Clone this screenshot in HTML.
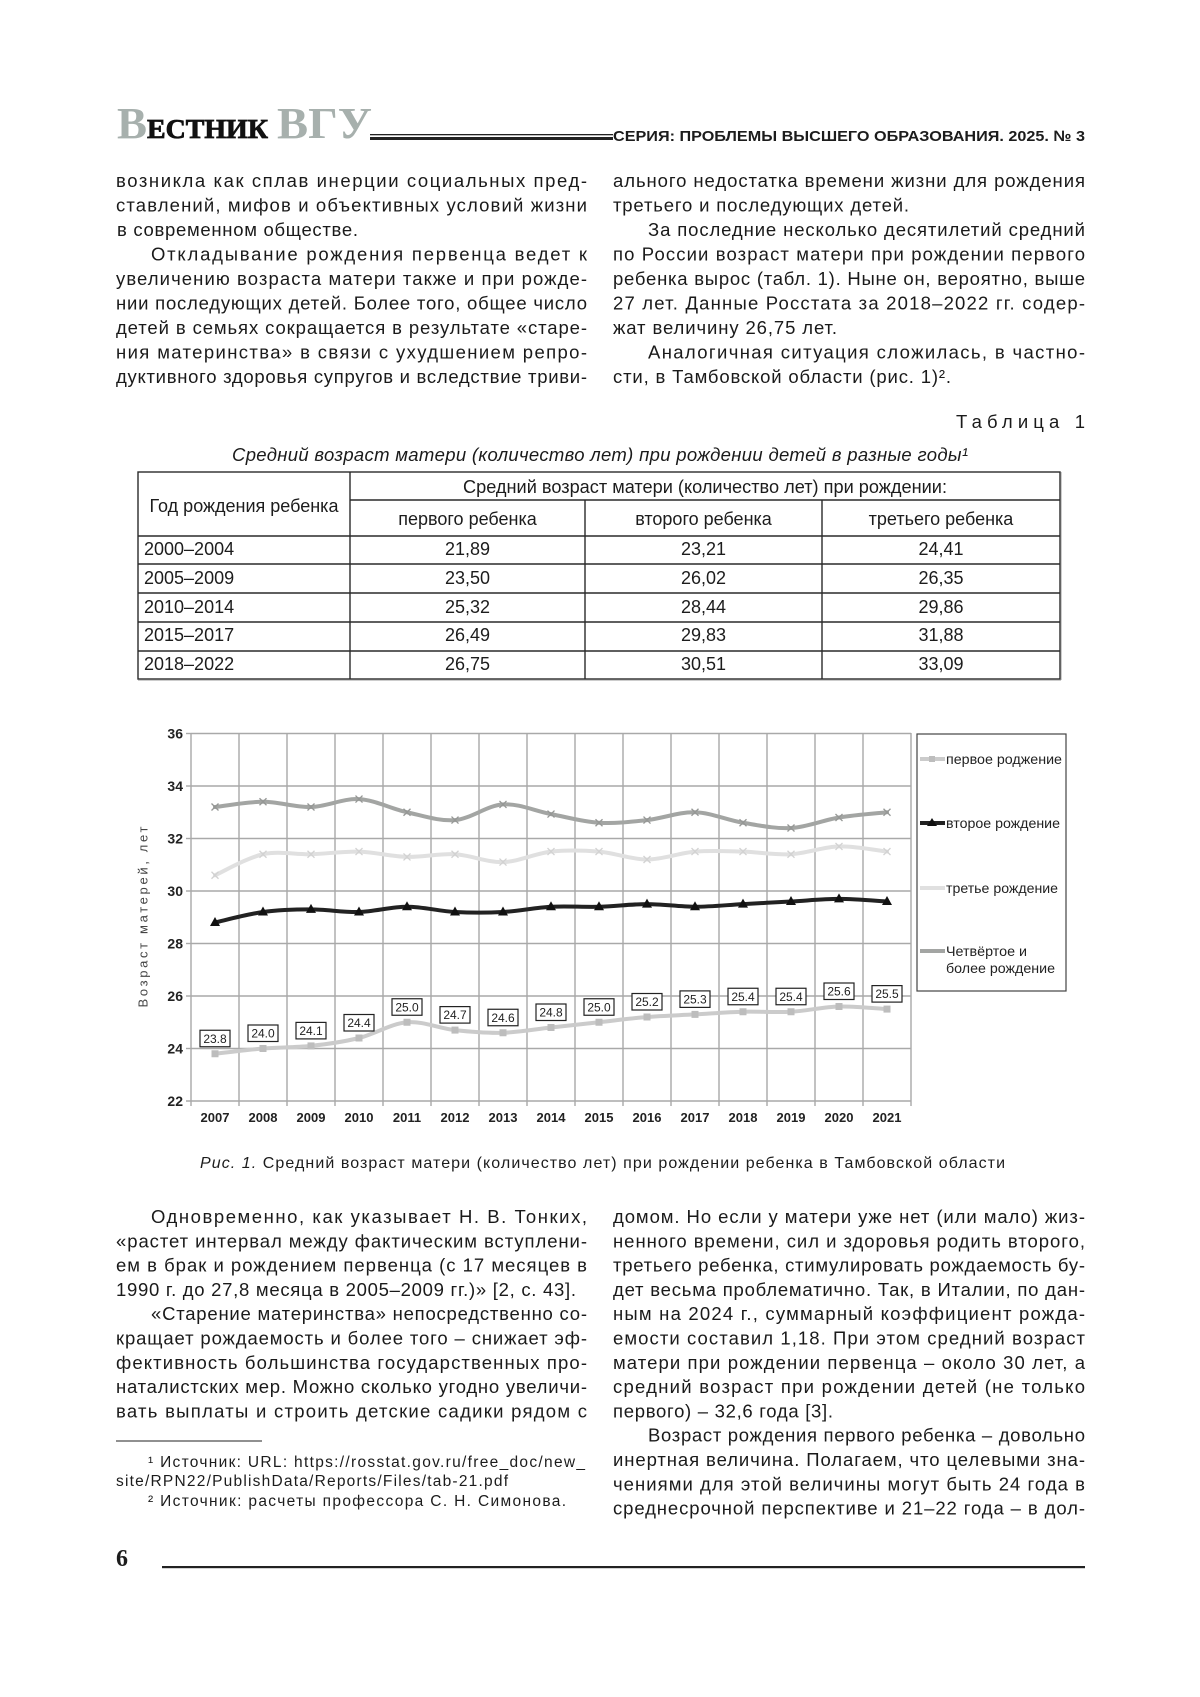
<!DOCTYPE html>
<html><head><meta charset="utf-8">
<style>
html,body{margin:0;padding:0;background:#fff;}
svg{display:block;}
.b{font-family:"Liberation Sans","DejaVu Sans",sans-serif;font-size:18.5px;fill:#1a1a1a;}
.t{font-family:"Liberation Sans","DejaVu Sans",sans-serif;font-size:18px;fill:#1c1c1c;}
.f{font-family:"Liberation Sans","DejaVu Sans",sans-serif;font-size:15.5px;fill:#1c1c1c;}
.ax{font-family:"Liberation Sans","DejaVu Sans",sans-serif;font-weight:bold;fill:#222;}
.lg{font-family:"Liberation Sans","DejaVu Sans",sans-serif;font-size:14px;fill:#222;}
.dl{font-family:"Liberation Sans","DejaVu Sans",sans-serif;font-size:12px;fill:#222;}
</style></head>
<body>
<svg id="pg" width="1200" height="1697" viewBox="0 0 1200 1697">
<rect x="0" y="0" width="1200" height="1697" fill="#fff"/>

<!-- Header -->
<text x="117" y="138" font-family="Liberation Serif, DejaVu Serif, serif" font-weight="bold" font-size="44" fill="#a7b0ad" textLength="30" lengthAdjust="spacingAndGlyphs">В</text>
<text x="147" y="138" font-family="Liberation Serif, DejaVu Serif, serif" font-weight="bold" font-size="27" fill="#111" stroke="#111" stroke-width="0.8" textLength="121" lengthAdjust="spacingAndGlyphs">ЕСТНИК</text>
<text x="277" y="138" font-family="Liberation Serif, DejaVu Serif, serif" font-weight="bold" font-size="44" fill="#a7b0ad" textLength="95" lengthAdjust="spacingAndGlyphs">ВГУ</text>
<rect x="370" y="134" width="243" height="1.3" fill="#222"/>
<rect x="370" y="137" width="243" height="3" fill="#222"/>
<text x="613" y="141" font-family="Liberation Sans, DejaVu Sans, sans-serif" font-weight="bold" font-size="15" fill="#1c1c1c" textLength="472" lengthAdjust="spacingAndGlyphs">СЕРИЯ: ПРОБЛЕМЫ ВЫСШЕГО ОБРАЗОВАНИЯ. 2025. № 3</text>

<!-- Upper left column -->
<text class="b" x="116" y="187" textLength="471" lengthAdjust="spacing">возникла как сплав инерции социальных пред-</text>
<text class="b" x="116" y="211.5" textLength="471" lengthAdjust="spacing">ставлений, мифов и объективных условий жизни</text>
<text class="b" x="117" y="236" textLength="241" lengthAdjust="spacing">в современном обществе.</text>
<text class="b" x="151" y="260.5" textLength="436" lengthAdjust="spacing">Откладывание рождения первенца ведет к</text>
<text class="b" x="116" y="285" textLength="471" lengthAdjust="spacing">увеличению возраста матери также и при рожде-</text>
<text class="b" x="116" y="309.5" textLength="471" lengthAdjust="spacing">нии последующих детей. Более того, общее число</text>
<text class="b" x="116" y="334" textLength="471" lengthAdjust="spacing">детей в семьях сокращается в результате «старе-</text>
<text class="b" x="116" y="358.5" textLength="471" lengthAdjust="spacing">ния материнства» в связи с ухудшением репро-</text>
<text class="b" x="116" y="383" textLength="471" lengthAdjust="spacing">дуктивного здоровья супругов и вследствие триви-</text>

<!-- Upper right column -->
<text class="b" x="613" y="187" textLength="472" lengthAdjust="spacing">ального недостатка времени жизни для рождения</text>
<text class="b" x="613" y="211.5" textLength="296" lengthAdjust="spacing">третьего и последующих детей.</text>
<text class="b" x="648" y="236" textLength="437" lengthAdjust="spacing">За последние несколько десятилетий средний</text>
<text class="b" x="613" y="260.5" textLength="472" lengthAdjust="spacing">по России возраст матери при рождении первого</text>
<text class="b" x="613" y="285" textLength="472" lengthAdjust="spacing">ребенка вырос (табл. 1). Ныне он, вероятно, выше</text>
<text class="b" x="613" y="309.5" textLength="472" lengthAdjust="spacing">27 лет. Данные Росстата за 2018–2022 гг. содер-</text>
<text class="b" x="613" y="334" textLength="224" lengthAdjust="spacing">жат величину 26,75 лет.</text>
<text class="b" x="648" y="358.5" textLength="437" lengthAdjust="spacing">Аналогичная ситуация сложилась, в частно-</text>
<text class="b" x="613" y="383" textLength="338" lengthAdjust="spacing">сти, в Тамбовской области (рис. 1)².</text>

<!-- Table title -->
<text class="b" x="956" y="428" textLength="129" lengthAdjust="spacing">Таблица 1</text>
<text class="b" x="232" y="461" font-style="italic" textLength="736" lengthAdjust="spacing">Средний возраст матери (количество лет) при рождении детей в разные годы¹</text>

<!-- Table -->
<g stroke="#2a2a2a" stroke-width="1.4" fill="none">
<rect x="138" y="472" width="922" height="207"/>
<line x1="350" y1="472" x2="350" y2="679"/>
<line x1="585" y1="500" x2="585" y2="679"/>
<line x1="822" y1="500" x2="822" y2="679"/>
<line x1="350" y1="500" x2="1060" y2="500"/>
<line x1="138" y1="536" x2="1060" y2="536"/>
<line x1="138" y1="564" x2="1060" y2="564"/>
<line x1="138" y1="593" x2="1060" y2="593"/>
<line x1="138" y1="622" x2="1060" y2="622"/>
<line x1="138" y1="651" x2="1060" y2="651"/>
</g>
<line x1="138" y1="680" x2="1061" y2="680" stroke="#999" stroke-width="1"/>
<line x1="1061" y1="472" x2="1061" y2="680" stroke="#999" stroke-width="1"/>
<g class="t">
<text class="t" x="244" y="512" text-anchor="middle">Год рождения ребенка</text>
<text class="t" x="705" y="493" text-anchor="middle" textLength="484" lengthAdjust="spacingAndGlyphs">Средний возраст матери (количество лет) при рождении:</text>
<text class="t" x="467.5" y="525" text-anchor="middle">первого ребенка</text>
<text class="t" x="703.5" y="525" text-anchor="middle">второго ребенка</text>
<text class="t" x="941" y="525" text-anchor="middle">третьего ребенка</text>

<text class="t" x="144" y="555">2000–2004</text>
<text class="t" x="467.5" y="555" text-anchor="middle">21,89</text>
<text class="t" x="703.5" y="555" text-anchor="middle">23,21</text>
<text class="t" x="941" y="555" text-anchor="middle">24,41</text>

<text class="t" x="144" y="584">2005–2009</text>
<text class="t" x="467.5" y="584" text-anchor="middle">23,50</text>
<text class="t" x="703.5" y="584" text-anchor="middle">26,02</text>
<text class="t" x="941" y="584" text-anchor="middle">26,35</text>

<text class="t" x="144" y="613">2010–2014</text>
<text class="t" x="467.5" y="613" text-anchor="middle">25,32</text>
<text class="t" x="703.5" y="613" text-anchor="middle">28,44</text>
<text class="t" x="941" y="613" text-anchor="middle">29,86</text>

<text class="t" x="144" y="641">2015–2017</text>
<text class="t" x="467.5" y="641" text-anchor="middle">26,49</text>
<text class="t" x="703.5" y="641" text-anchor="middle">29,83</text>
<text class="t" x="941" y="641" text-anchor="middle">31,88</text>

<text class="t" x="144" y="670">2018–2022</text>
<text class="t" x="467.5" y="670" text-anchor="middle">26,75</text>
<text class="t" x="703.5" y="670" text-anchor="middle">30,51</text>
<text class="t" x="941" y="670" text-anchor="middle">33,09</text>
</g>

<!-- Chart grid -->
<g stroke="#a9a9a9" stroke-width="1.4">
<line x1="191" y1="733.5" x2="911" y2="733.5"/>
<line x1="191" y1="786" x2="911" y2="786"/>
<line x1="191" y1="838.5" x2="911" y2="838.5"/>
<line x1="191" y1="891" x2="911" y2="891"/>
<line x1="191" y1="943.5" x2="911" y2="943.5"/>
<line x1="191" y1="996" x2="911" y2="996"/>
<line x1="191" y1="1048.5" x2="911" y2="1048.5"/>
<line x1="186" y1="1101" x2="911" y2="1101"/>
<line x1="186" y1="733.5" x2="191" y2="733.5"/>
<line x1="186" y1="786" x2="191" y2="786"/>
<line x1="186" y1="838.5" x2="191" y2="838.5"/>
<line x1="186" y1="891" x2="191" y2="891"/>
<line x1="186" y1="943.5" x2="191" y2="943.5"/>
<line x1="186" y1="996" x2="191" y2="996"/>
<line x1="186" y1="1048.5" x2="191" y2="1048.5"/>
<line x1="191" y1="733" x2="191" y2="1106"/>
<line x1="239" y1="733" x2="239" y2="1106"/>
<line x1="287" y1="733" x2="287" y2="1106"/>
<line x1="335" y1="733" x2="335" y2="1106"/>
<line x1="383" y1="733" x2="383" y2="1106"/>
<line x1="431" y1="733" x2="431" y2="1106"/>
<line x1="479" y1="733" x2="479" y2="1106"/>
<line x1="527" y1="733" x2="527" y2="1106"/>
<line x1="575" y1="733" x2="575" y2="1106"/>
<line x1="623" y1="733" x2="623" y2="1106"/>
<line x1="671" y1="733" x2="671" y2="1106"/>
<line x1="719" y1="733" x2="719" y2="1106"/>
<line x1="767" y1="733" x2="767" y2="1106"/>
<line x1="815" y1="733" x2="815" y2="1106"/>
<line x1="863" y1="733" x2="863" y2="1106"/>
<line x1="911" y1="733" x2="911" y2="1106"/>
</g>

<!-- Y labels -->
<g class="ax" font-size="14" text-anchor="end">
<text x="183" y="738.5">36</text>
<text x="183" y="791">34</text>
<text x="183" y="843.5">32</text>
<text x="183" y="896">30</text>
<text x="183" y="948.5">28</text>
<text x="183" y="1001">26</text>
<text x="183" y="1053.5">24</text>
<text x="183" y="1106">22</text>
</g>
<!-- X labels -->
<g class="ax" font-size="13" text-anchor="middle">
<text x="215" y="1122">2007</text>
<text x="263" y="1122">2008</text>
<text x="311" y="1122">2009</text>
<text x="359" y="1122">2010</text>
<text x="407" y="1122">2011</text>
<text x="455" y="1122">2012</text>
<text x="503" y="1122">2013</text>
<text x="551" y="1122">2014</text>
<text x="599" y="1122">2015</text>
<text x="647" y="1122">2016</text>
<text x="695" y="1122">2017</text>
<text x="743" y="1122">2018</text>
<text x="791" y="1122">2019</text>
<text x="839" y="1122">2020</text>
<text x="887" y="1122">2021</text>
</g>
<text transform="translate(147.5,917) rotate(-90)" text-anchor="middle" font-family="Liberation Sans, DejaVu Sans, sans-serif" font-size="13" fill="#444" textLength="181" lengthAdjust="spacing">Возраст матерей, лет</text>

<!-- Series (static smoothed paths) -->
<g fill="none" stroke-linejoin="round" stroke-linecap="round" stroke-width="4">
<path stroke="#a3a5a3" d="M215,807 C223,806.13 247,801.75 263,801.75 C279,801.75 295,807.44 311,807 C327,806.56 343,798.23 359,799.1 C375,799.98 391,808.75 407,812.25 C423,815.75 439,821.41 455,820.1 C471,818.79 487,805.4 503,804.4 C519,803.4 535,811.04 551,814.1 C567,817.16 583,821.75 599,822.75 C615,823.75 631,821.85 647,820.1 C663,818.35 679,811.81 695,812.25 C711,812.69 727,820.13 743,822.75 C759,825.38 775,828.88 791,828 C807,827.13 823,820.13 839,817.5 C855,814.88 879,813.13 887,812.25"/>
<path stroke="#e0e0e0" d="M215,875.25 C223,871.75 247,857.75 263,854.25 C279,850.75 295,854.69 311,854.25 C327,853.81 343,851.16 359,851.6 C375,852.04 391,856.46 407,856.9 C423,857.34 439,853.38 455,854.25 C471,855.12 487,862.54 503,862.1 C519,861.66 535,853.35 551,851.6 C567,849.85 583,850.28 599,851.6 C615,852.92 631,859.5 647,859.5 C663,859.5 679,852.92 695,851.6 C711,850.28 727,851.16 743,851.6 C759,852.04 775,855.12 791,854.25 C807,853.38 823,846.84 839,846.4 C855,845.96 879,850.73 887,851.6"/>
<path stroke="#222" d="M215,922.5 C223,920.75 247,914.18 263,912 C279,909.82 295,909.4 311,909.4 C327,909.4 343,912.44 359,912 C375,911.56 391,906.75 407,906.75 C423,906.75 439,911.13 455,912 C471,912.88 487,912.88 503,912 C519,911.13 535,907.63 551,906.75 C567,905.88 583,907.19 599,906.75 C615,906.31 631,904.1 647,904.1 C663,904.1 679,906.75 695,906.75 C711,906.75 727,904.98 743,904.1 C759,903.23 775,902.37 791,901.5 C807,900.63 823,898.9 839,898.9 C855,898.9 879,901.07 887,901.5"/>
<path stroke="#cbcbcb" d="M215,1053.75 C223,1052.88 247,1049.81 263,1048.5 C279,1047.19 295,1047.65 311,1045.9 C327,1044.15 343,1041.94 359,1038 C375,1034.06 391,1023.57 407,1022.25 C423,1020.93 439,1028.35 455,1030.1 C471,1031.85 487,1033.18 503,1032.75 C519,1032.32 535,1029.25 551,1027.5 C567,1025.75 583,1024 599,1022.25 C615,1020.5 631,1018.31 647,1017 C663,1015.69 679,1015.28 695,1014.4 C711,1013.53 727,1012.19 743,1011.75 C759,1011.31 775,1012.63 791,1011.75 C807,1010.88 823,1006.94 839,1006.5 C855,1006.06 879,1008.67 887,1009.1"/>
</g>

<!-- Markers: 4th series crosses -->
<g stroke="#959795" stroke-width="1.3" fill="none">
<path transform="translate(215,807)" d="M-3.5,-3.5L3.5,3.5M-3.5,3.5L3.5,-3.5"/>
<path transform="translate(263,801.75)" d="M-3.5,-3.5L3.5,3.5M-3.5,3.5L3.5,-3.5"/>
<path transform="translate(311,807)" d="M-3.5,-3.5L3.5,3.5M-3.5,3.5L3.5,-3.5"/>
<path transform="translate(359,799.1)" d="M-3.5,-3.5L3.5,3.5M-3.5,3.5L3.5,-3.5"/>
<path transform="translate(407,812.25)" d="M-3.5,-3.5L3.5,3.5M-3.5,3.5L3.5,-3.5"/>
<path transform="translate(455,820.1)" d="M-3.5,-3.5L3.5,3.5M-3.5,3.5L3.5,-3.5"/>
<path transform="translate(503,804.4)" d="M-3.5,-3.5L3.5,3.5M-3.5,3.5L3.5,-3.5"/>
<path transform="translate(551,814.1)" d="M-3.5,-3.5L3.5,3.5M-3.5,3.5L3.5,-3.5"/>
<path transform="translate(599,822.75)" d="M-3.5,-3.5L3.5,3.5M-3.5,3.5L3.5,-3.5"/>
<path transform="translate(647,820.1)" d="M-3.5,-3.5L3.5,3.5M-3.5,3.5L3.5,-3.5"/>
<path transform="translate(695,812.25)" d="M-3.5,-3.5L3.5,3.5M-3.5,3.5L3.5,-3.5"/>
<path transform="translate(743,822.75)" d="M-3.5,-3.5L3.5,3.5M-3.5,3.5L3.5,-3.5"/>
<path transform="translate(791,828)" d="M-3.5,-3.5L3.5,3.5M-3.5,3.5L3.5,-3.5"/>
<path transform="translate(839,817.5)" d="M-3.5,-3.5L3.5,3.5M-3.5,3.5L3.5,-3.5"/>
<path transform="translate(887,812.25)" d="M-3.5,-3.5L3.5,3.5M-3.5,3.5L3.5,-3.5"/>
</g>
<!-- Markers: 3rd series crosses -->
<g stroke="#d2d2d2" stroke-width="1.3" fill="none">
<path transform="translate(215,875.25)" d="M-3.5,-3.5L3.5,3.5M-3.5,3.5L3.5,-3.5"/>
<path transform="translate(263,854.25)" d="M-3.5,-3.5L3.5,3.5M-3.5,3.5L3.5,-3.5"/>
<path transform="translate(311,854.25)" d="M-3.5,-3.5L3.5,3.5M-3.5,3.5L3.5,-3.5"/>
<path transform="translate(359,851.6)" d="M-3.5,-3.5L3.5,3.5M-3.5,3.5L3.5,-3.5"/>
<path transform="translate(407,856.9)" d="M-3.5,-3.5L3.5,3.5M-3.5,3.5L3.5,-3.5"/>
<path transform="translate(455,854.25)" d="M-3.5,-3.5L3.5,3.5M-3.5,3.5L3.5,-3.5"/>
<path transform="translate(503,862.1)" d="M-3.5,-3.5L3.5,3.5M-3.5,3.5L3.5,-3.5"/>
<path transform="translate(551,851.6)" d="M-3.5,-3.5L3.5,3.5M-3.5,3.5L3.5,-3.5"/>
<path transform="translate(599,851.6)" d="M-3.5,-3.5L3.5,3.5M-3.5,3.5L3.5,-3.5"/>
<path transform="translate(647,859.5)" d="M-3.5,-3.5L3.5,3.5M-3.5,3.5L3.5,-3.5"/>
<path transform="translate(695,851.6)" d="M-3.5,-3.5L3.5,3.5M-3.5,3.5L3.5,-3.5"/>
<path transform="translate(743,851.6)" d="M-3.5,-3.5L3.5,3.5M-3.5,3.5L3.5,-3.5"/>
<path transform="translate(791,854.25)" d="M-3.5,-3.5L3.5,3.5M-3.5,3.5L3.5,-3.5"/>
<path transform="translate(839,846.4)" d="M-3.5,-3.5L3.5,3.5M-3.5,3.5L3.5,-3.5"/>
<path transform="translate(887,851.6)" d="M-3.5,-3.5L3.5,3.5M-3.5,3.5L3.5,-3.5"/>
</g>
<!-- Markers: 2nd series triangles -->
<g fill="#111">
<polygon transform="translate(215,922.5)" points="0,-5.5 5,3.5 -5,3.5"/>
<polygon transform="translate(263,912)" points="0,-5.5 5,3.5 -5,3.5"/>
<polygon transform="translate(311,909.4)" points="0,-5.5 5,3.5 -5,3.5"/>
<polygon transform="translate(359,912)" points="0,-5.5 5,3.5 -5,3.5"/>
<polygon transform="translate(407,906.75)" points="0,-5.5 5,3.5 -5,3.5"/>
<polygon transform="translate(455,912)" points="0,-5.5 5,3.5 -5,3.5"/>
<polygon transform="translate(503,912)" points="0,-5.5 5,3.5 -5,3.5"/>
<polygon transform="translate(551,906.75)" points="0,-5.5 5,3.5 -5,3.5"/>
<polygon transform="translate(599,906.75)" points="0,-5.5 5,3.5 -5,3.5"/>
<polygon transform="translate(647,904.1)" points="0,-5.5 5,3.5 -5,3.5"/>
<polygon transform="translate(695,906.75)" points="0,-5.5 5,3.5 -5,3.5"/>
<polygon transform="translate(743,904.1)" points="0,-5.5 5,3.5 -5,3.5"/>
<polygon transform="translate(791,901.5)" points="0,-5.5 5,3.5 -5,3.5"/>
<polygon transform="translate(839,898.9)" points="0,-5.5 5,3.5 -5,3.5"/>
<polygon transform="translate(887,901.5)" points="0,-5.5 5,3.5 -5,3.5"/>
</g>
<!-- Markers: 1st series squares -->
<g fill="#bdbdbd">
<rect x="211.5" y="1050.25" width="7" height="7"/>
<rect x="259.5" y="1045" width="7" height="7"/>
<rect x="307.5" y="1042.4" width="7" height="7"/>
<rect x="355.5" y="1034.5" width="7" height="7"/>
<rect x="403.5" y="1018.75" width="7" height="7"/>
<rect x="451.5" y="1026.6" width="7" height="7"/>
<rect x="499.5" y="1029.25" width="7" height="7"/>
<rect x="547.5" y="1024" width="7" height="7"/>
<rect x="595.5" y="1018.75" width="7" height="7"/>
<rect x="643.5" y="1013.5" width="7" height="7"/>
<rect x="691.5" y="1010.9" width="7" height="7"/>
<rect x="739.5" y="1008.25" width="7" height="7"/>
<rect x="787.5" y="1008.25" width="7" height="7"/>
<rect x="835.5" y="1003" width="7" height="7"/>
<rect x="883.5" y="1005.6" width="7" height="7"/>
</g>

<!-- Data labels -->
<g fill="#fff" stroke="#222" stroke-width="1.2">
<rect x="200" y="1030.25" width="30" height="16.5"/>
<rect x="248" y="1025" width="30" height="16.5"/>
<rect x="296" y="1022.4" width="30" height="16.5"/>
<rect x="344" y="1014.5" width="30" height="16.5"/>
<rect x="392" y="998.75" width="30" height="16.5"/>
<rect x="440" y="1006.6" width="30" height="16.5"/>
<rect x="488" y="1009.25" width="30" height="16.5"/>
<rect x="536" y="1004" width="30" height="16.5"/>
<rect x="584" y="998.75" width="30" height="16.5"/>
<rect x="632" y="993.5" width="30" height="16.5"/>
<rect x="680" y="990.9" width="30" height="16.5"/>
<rect x="728" y="988.25" width="30" height="16.5"/>
<rect x="776" y="988.25" width="30" height="16.5"/>
<rect x="824" y="983" width="30" height="16.5"/>
<rect x="872" y="985.6" width="30" height="16.5"/>
</g>
<g class="dl" text-anchor="middle">
<text x="215" y="1042.75">23.8</text>
<text x="263" y="1037.5">24.0</text>
<text x="311" y="1034.9">24.1</text>
<text x="359" y="1027">24.4</text>
<text x="407" y="1011.25">25.0</text>
<text x="455" y="1019.1">24.7</text>
<text x="503" y="1021.75">24.6</text>
<text x="551" y="1016.5">24.8</text>
<text x="599" y="1011.25">25.0</text>
<text x="647" y="1006">25.2</text>
<text x="695" y="1003.4">25.3</text>
<text x="743" y="1000.75">25.4</text>
<text x="791" y="1000.75">25.4</text>
<text x="839" y="995.5">25.6</text>
<text x="887" y="998.1">25.5</text>
</g>

<!-- Legend -->
<rect x="917" y="734" width="149" height="257" fill="#fff" stroke="#444" stroke-width="1.2"/>
<line x1="920" y1="759" x2="945" y2="759" stroke="#cbcbcb" stroke-width="4"/>
<rect x="929" y="756" width="6" height="6" fill="#bdbdbd"/>
<line x1="920" y1="823" x2="945" y2="823" stroke="#222" stroke-width="4"/>
<polygon points="932,818 937,826 927,826" fill="#111"/>
<line x1="920" y1="888" x2="945" y2="888" stroke="#e0e0e0" stroke-width="4"/>
<line x1="920" y1="951" x2="945" y2="951" stroke="#a3a5a3" stroke-width="4"/>
<text class="lg" x="946" y="764" textLength="116" lengthAdjust="spacingAndGlyphs">первое роджение</text>
<text class="lg" x="946" y="828" textLength="114" lengthAdjust="spacingAndGlyphs">второе рождение</text>
<text class="lg" x="946" y="893" textLength="112" lengthAdjust="spacingAndGlyphs">третье рождение</text>
<text class="lg" x="946" y="956" textLength="81" lengthAdjust="spacingAndGlyphs">Четвёртое и</text>
<text class="lg" x="946" y="973" textLength="109" lengthAdjust="spacingAndGlyphs">более рождение</text>

<!-- Figure caption -->
<text x="200" y="1168" font-family="Liberation Sans, DejaVu Sans, sans-serif" font-size="16" fill="#1c1c1c" textLength="805" lengthAdjust="spacing"><tspan font-style="italic">Рис. 1.</tspan> Средний возраст матери (количество лет) при рождении ребенка в Тамбовской области</text>

<!-- Lower left column -->
<text class="b" x="151" y="1223" textLength="436" lengthAdjust="spacing">Одновременно, как указывает Н. В. Тонких,</text>
<text class="b" x="116" y="1247.3" textLength="471" lengthAdjust="spacing">«растет интервал между фактическим вступлени-</text>
<text class="b" x="116" y="1271.6" textLength="471" lengthAdjust="spacing">ем в брак и рождением первенца (с 17 месяцев в</text>
<text class="b" x="116" y="1295.9" textLength="460" lengthAdjust="spacing">1990 г. до 27,8 месяца в 2005–2009 гг.)» [2, с. 43].</text>
<text class="b" x="151" y="1320.2" textLength="436" lengthAdjust="spacing">«Старение материнства» непосредственно со-</text>
<text class="b" x="116" y="1344.5" textLength="471" lengthAdjust="spacing">кращает рождаемость и более того – снижает эф-</text>
<text class="b" x="116" y="1368.8" textLength="471" lengthAdjust="spacing">фективность большинства государственных про-</text>
<text class="b" x="116" y="1393.1" textLength="471" lengthAdjust="spacing">наталистских мер. Можно сколько угодно увеличи-</text>
<text class="b" x="116" y="1417.4" textLength="471" lengthAdjust="spacing">вать выплаты и строить детские садики рядом с</text>

<!-- Footnotes -->
<line x1="116" y1="1441" x2="262" y2="1441" stroke="#222" stroke-width="1"/>
<text class="f" x="148" y="1467" textLength="437" lengthAdjust="spacing">¹ Источник: URL: https://rosstat.gov.ru/free_doc/new_</text>
<text class="f" x="116" y="1486" textLength="392" lengthAdjust="spacing">site/RPN22/PublishData/Reports/Files/tab-21.pdf</text>
<text class="f" x="148" y="1506" textLength="418" lengthAdjust="spacing">² Источник: расчеты профессора С. Н. Симонова.</text>

<!-- Lower right column -->
<text class="b" x="613" y="1223" textLength="472" lengthAdjust="spacing">домом. Но если у матери уже нет (или мало) жиз-</text>
<text class="b" x="613" y="1247.3" textLength="472" lengthAdjust="spacing">ненного времени, сил и здоровья родить второго,</text>
<text class="b" x="613" y="1271.6" textLength="472" lengthAdjust="spacing">третьего ребенка, стимулировать рождаемость бу-</text>
<text class="b" x="613" y="1295.9" textLength="472" lengthAdjust="spacing">дет весьма проблематично. Так, в Италии, по дан-</text>
<text class="b" x="613" y="1320.2" textLength="472" lengthAdjust="spacing">ным на 2024 г., суммарный коэффициент рожда-</text>
<text class="b" x="613" y="1344.5" textLength="472" lengthAdjust="spacing">емости составил 1,18. При этом средний возраст</text>
<text class="b" x="613" y="1368.8" textLength="472" lengthAdjust="spacing">матери при рождении первенца – около 30 лет, а</text>
<text class="b" x="613" y="1393.1" textLength="472" lengthAdjust="spacing">средний возраст при рождении детей (не только</text>
<text class="b" x="613" y="1417.4" textLength="220" lengthAdjust="spacing">первого) – 32,6 года [3].</text>
<text class="b" x="648" y="1441.7" textLength="437" lengthAdjust="spacing">Возраст рождения первого ребенка – довольно</text>
<text class="b" x="613" y="1466" textLength="472" lengthAdjust="spacing">инертная величина. Полагаем, что целевыми зна-</text>
<text class="b" x="613" y="1490.3" textLength="472" lengthAdjust="spacing">чениями для этой величины могут быть 24 года в</text>
<text class="b" x="613" y="1514.6" textLength="472" lengthAdjust="spacing">среднесрочной перспективе и 21–22 года – в дол-</text>

<!-- Footer -->
<text x="116" y="1566" font-family="Liberation Serif, DejaVu Serif, serif" font-weight="bold" font-size="24" fill="#1c1c1c">6</text>
<rect x="162" y="1566" width="923" height="2.2" fill="#222"/>
</svg>
</body></html>
